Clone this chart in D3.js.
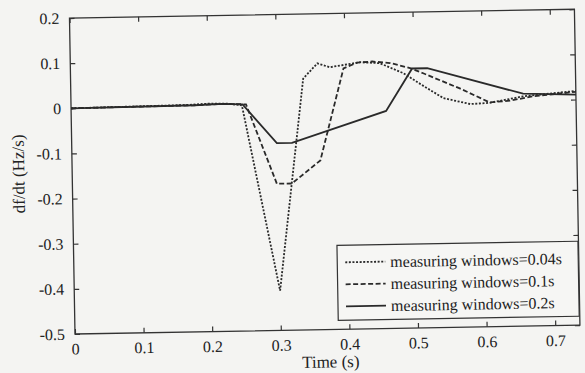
<!DOCTYPE html>
<html>
<head>
<meta charset="utf-8">
<script src="https://cdn.jsdelivr.net/npm/d3@7"></script>
<style>
  body { margin: 0; background: #f4f4f2; }
  svg { display: block; }
  text { font-family: "Liberation Serif", "Times New Roman", serif; fill: #222; }
</style>
</head>
<body>
<svg width="585" height="373"></svg>
<script>
// data
const xTicks = [0, 0.1, 0.2, 0.3, 0.4, 0.5, 0.6, 0.7];
const yTicks = [0.2, 0.1, 0, -0.1, -0.2, -0.3, -0.4, -0.5];

const t004 = [0, 0.17, 0.2, 0.23, 0.249, 0.30, 0.339, 0.36, 0.378, 0.423, 0.451, 0.485, 0.515, 0.543, 0.582, 0.61, 0.659, 0.736];
const v004 = [0, 0.003, 0.005, 0.004, 0.0, -0.412, 0.057, 0.09, 0.081, 0.091, 0.088, 0.065, 0.035, 0.008, -0.006, -0.004, 0.009, 0.019];

const t01 = [0, 0.18, 0.22, 0.255, 0.298, 0.32, 0.362, 0.398, 0.418, 0.44, 0.466, 0.495, 0.514, 0.567, 0.61, 0.64, 0.674, 0.736];
const v01 = [0, 0.002, 0.004, 0.002, -0.175, -0.175, -0.125, 0.078, 0.09, 0.092, 0.088, 0.076, 0.064, 0.029, -0.003, 0.0, 0.009, 0.017];

const t02 = [0, 0.18, 0.22, 0.25, 0.299, 0.321, 0.459, 0.498, 0.52, 0.659, 0.736];
const v02 = [0, 0.002, 0.004, 0.002, -0.085, -0.085, -0.018, 0.075, 0.075, 0.015, 0.011];

const seriesNames = ["measuring windows=0.04s", "measuring windows=0.1s", "measuring windows=0.2s"];
const dashes = ["2,1.6", "5,2.5", null];

const svg = d3.select("svg");
const margin = {left: 75, top: 18, right: 5, bottom: 39};
const width = +svg.attr("width") - margin.left - margin.right,
    height = +svg.attr("height") - margin.top - margin.bottom;

// the scan is tilted about a degree, so the whole figure is too
const g = svg.append("g")
    .attr("transform", `rotate(-1, ${margin.left}, ${margin.top + height}) translate(${margin.left},${margin.top})`);

const x = d3.scaleLinear().domain([0, 0.736]).range([0, width]);
const y = d3.scaleLinear().domain([-0.5, 0.2]).range([height, 0]);

const fmt = d => d === 0 ? "0" : d3.format(".1f")(d).replace("−", "-");

// axes, MATLAB style ticks pointing inwards on all four sides
g.append("g")
    .attr("transform", `translate(0,${height})`)
    .call(d3.axisBottom(x).tickValues(xTicks).tickFormat(fmt).tickSizeInner(-5).tickSizeOuter(0).tickPadding(9));
g.append("g")
    .call(d3.axisTop(x).tickValues(xTicks).tickFormat("").tickSizeInner(-5).tickSizeOuter(0));
g.append("g")
    .call(d3.axisLeft(y).tickValues(yTicks).tickFormat(fmt).tickSizeInner(-5).tickSizeOuter(0).tickPadding(10));
g.append("g")
    .attr("transform", `translate(${width},0)`)
    .call(d3.axisRight(y).tickValues(yTicks).tickFormat("").tickSizeInner(-5).tickSizeOuter(0));

g.selectAll(".domain").remove();
g.selectAll(".tick line").attr("stroke", "#333").attr("stroke-width", 1.2);
g.selectAll(".tick text")
    .style("font-family", "'Liberation Serif', serif")
    .style("font-size", "16px")
    .attr("fill", "#222");

g.append("rect")
    .attr("width", width).attr("height", height)
    .attr("fill", "none").attr("stroke", "#333").attr("stroke-width", 1.3);

// curves
const line = d3.line().x(d => x(d[0])).y(d => y(d[1]));
const series = [
    d3.zip(t004, v004),
    d3.zip(t01, v01),
    d3.zip(t02, v02)
];

g.append("g").selectAll("path")
    .data(series)
    .join("path")
    .attr("d", line)
    .attr("fill", "none")
    .attr("stroke", "#2a2a2a")
    .attr("stroke-width", 1.8)
    .attr("stroke-dasharray", (d, i) => dashes[i]);

// legend
const lg = g.append("g").attr("transform", `translate(${x(0.4) - 11},${y(-0.314)})`);
lg.append("rect")
    .attr("width", 241).attr("height", 75)
    .attr("fill", "#f6f6f4").attr("stroke", "#333").attr("stroke-width", 1.2);
seriesNames.forEach((name, i) => {
    const yy = 17 + i * 22;
    lg.append("line")
        .attr("x1", 8).attr("x2", 48).attr("y1", yy).attr("y2", yy)
        .attr("stroke", "#2a2a2a").attr("stroke-width", 1.8)
        .attr("stroke-dasharray", dashes[i]);
    lg.append("text")
        .attr("x", 53).attr("y", yy).attr("dy", "0.35em")
        .style("font-size", "16px")
        .text(name);
});

// axis titles
g.append("text")
    .attr("x", x(0.372)).attr("y", height + 38)
    .attr("text-anchor", "middle")
    .style("font-size", "17px")
    .text("Time (s)");

g.append("text")
    .attr("transform", `translate(-48,${height / 2 - 3}) rotate(-90)`)
    .attr("text-anchor", "middle")
    .style("font-size", "17px")
    .text("df/dt (Hz/s)");
</script>
</body>
</html>
